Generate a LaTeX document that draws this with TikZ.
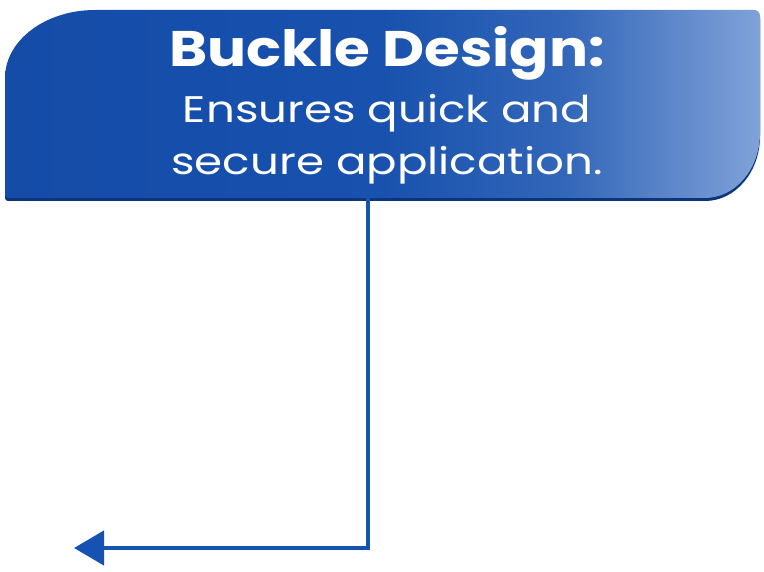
\documentclass[tikz,border=0pt]{standalone}
\usepackage{fontspec}
\setmainfont{Poppins}
\newfontfamily\titlefont[FakeStretch=1.16]{Poppins}
\newfontfamily\bodyfont[FakeStretch=1.22]{Poppins}
\usetikzlibrary{arrows.meta}
\definecolor{boxdark}{RGB}{20,76,168}
\definecolor{boxmid}{RGB}{24,82,174}
\definecolor{boxlight}{RGB}{128,162,216}
\definecolor{boxedge}{RGB}{12,52,122}
\definecolor{linkblue}{RGB}{22,82,178}
\pgfdeclarehorizontalshading{boxshade}{100bp}{
  color(0bp)=(boxdark); color(25bp)=(boxdark); color(50bp)=(boxmid); color(62bp)=(boxmid!75!boxlight); color(75bp)=(boxlight); color(100bp)=(boxlight)}
\tikzset{
  x=1pt, y=1pt,
  titletext/.style={text=white, anchor=base, inner sep=0pt, font=\titlefont\fontsize{50}{50}\selectfont\bfseries},
  bodytext/.style={text=white, anchor=base, inner sep=0pt, font=\bodyfont\fontsize{37}{37}\selectfont},
  link/.style={draw=linkblue, line width=4.5pt, -{Triangle[length=30pt,width=34pt]}},
}
\newcommand{\boxpath}{(5,-78) arc[start angle=180, end angle=90, x radius=90, y radius=68] -- (754,-10) arc[start angle=90, end angle=0, radius=6] -- (760,-133) arc[start angle=0, end angle=-90, x radius=55, y radius=65] -- (8,-198) arc[start angle=270, end angle=180, radius=3] -- cycle}
\begin{document}
\begin{tikzpicture}
\useasboundingbox (0,0) rectangle (764,-572);
% soft shadow
\fill[black!10, opacity=0.6] [shift={(1,-3)}] \boxpath;
% dark bottom edge
\fill[boxedge] [shift={(0,-3)}] \boxpath;
% main shaded box
\shade[shading=boxshade] \boxpath;
\node[titletext] (title) at (387,-67) {Buckle Design:};
\node[bodytext] (line2) at (387,-123) {Ensures quick and};
\node[bodytext] (line3) at (387,-175) {secure application.};
\coordinate (boxfoot) at (368,-198);
\coordinate (target) at (74,-548);
\draw[link] (boxfoot) |- (target);
\end{tikzpicture}
\end{document}
